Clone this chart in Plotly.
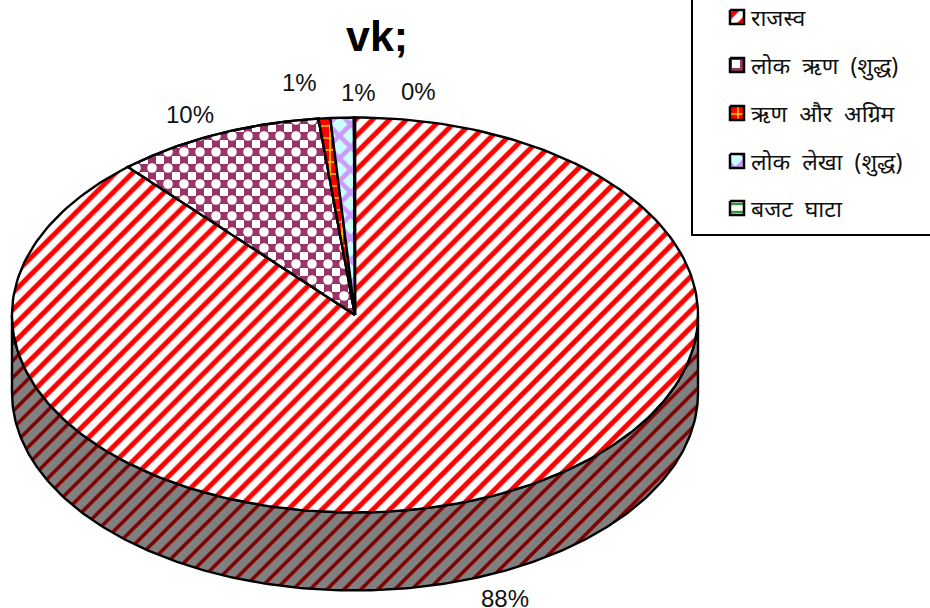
import numpy as np
import plotly.graph_objects as go

categories = ["राजस्व", "लोक ऋण (शुद्ध)", "ऋण और अग्रिम", "लोक लेखा (शुद्ध)", "बजट घाटा"]
values = [88.49, 9.81, 0.55, 1.1, 0.05]
title_text = "vk;"

W, H = 930, 608
CX, CY, RX, RY, DEPTH = 355, 315, 343, 197.5, 78
PAT = [
    dict(shape="/", bgcolor="white", fgcolor="#FF0000", size=12, solidity=0.42, fillmode="replace"),
    dict(shape="+", bgcolor="white", fgcolor="#993366", size=16, solidity=0.75, fillmode="replace"),
    dict(shape="+", bgcolor="#FF0000", fgcolor="#FFCC00", size=12, solidity=0.25, fillmode="replace"),
    dict(shape="x", bgcolor="#CCFFFF", fgcolor="#CC99FF", size=16, solidity=0.5, fillmode="replace"),
    dict(shape="-", bgcolor="white", fgcolor="#339933", size=8, solidity=0.3, fillmode="replace"),
]
# white dots on the crossings of the purple grid turn it into a checkerboard
OVERLAY = {1: dict(shape=".", bgcolor="rgba(0,0,0,0)", fgcolor="white", size=16, solidity=0.283, fillmode="replace")}
SIDE = dict(shape="/", bgcolor="#808080", fgcolor="#800000", size=12, solidity=0.3, fillmode="replace")
LABEL_POS = [(505, 598), (190, 114), (299, 82), (358, 92), (418, 91)]
LEG_Y = [17, 65, 113, 161, 208]


def rim(t0, t1, dy=0.0, n=240):
    t = np.linspace(t0, t1, n)
    return CX + RX * np.sin(t), CY - RY * np.cos(t) + dy


def poly(fig, x, y, pattern, lw=2.4):
    fig.add_trace(go.Scatter(x=x, y=y, mode="lines", fill="toself", fillpattern=pattern,
                             fillcolor=pattern["bgcolor"], line=dict(color="black", width=lw),
                             hoverinfo="skip", showlegend=False))


fig = go.Figure()
# side wall: front half of the rim, extruded downwards
xa, ya = rim(np.pi / 2, 3 * np.pi / 2)
xb, yb = rim(3 * np.pi / 2, np.pi / 2, DEPTH)
poly(fig, np.r_[xa, xb, xa[0]], np.r_[ya, yb, ya[0]], SIDE)

# top face wedges, clockwise from 12 o'clock
edges = np.r_[0, np.cumsum(values)] / sum(values) * 2 * np.pi
for i in range(len(values)):
    xr, yr = rim(edges[i], edges[i + 1])
    poly(fig, np.r_[CX, xr, CX], np.r_[CY, yr, CY], PAT[i])
    if i in OVERLAY:
        poly(fig, np.r_[CX, xr, CX], np.r_[CY, yr, CY], OVERLAY[i])

annotations = [dict(x=377, y=36, text=f"<b>{title_text}</b>", showarrow=False,
                    font=dict(family="Liberation Sans", size=43, color="black"))]
for v, (lx, ly) in zip(values, LABEL_POS):
    annotations.append(dict(x=lx, y=ly, text=f"{v / sum(values) * 100:.0f}%", showarrow=False,
                            font=dict(family="Liberation Sans", size=24, color="#111111")))

# legend
for i, (c, ly) in enumerate(zip(categories, LEG_Y)):
    poly(fig, [730, 744, 744, 730, 730], [ly - 7, ly - 7, ly + 7, ly + 7, ly - 7], PAT[i], lw=2.5)
    annotations.append(dict(x=749, y=ly, xanchor="left", text=c.replace(" ", "\u00a0\u00a0"), showarrow=False,
                            font=dict(family="Noto Sans, Noto Sans Devanagari, sans-serif", size=23, color="#111111")))

fig.update_layout(
    width=W, height=H, margin=dict(l=0, r=0, t=0, b=0), paper_bgcolor="white", plot_bgcolor="white",
    xaxis=dict(range=[0, W], visible=False, fixedrange=True),
    yaxis=dict(range=[H, 0], visible=False, fixedrange=True),
    annotations=annotations, showlegend=False,
    shapes=[dict(type="rect", x0=692, y0=-10, x1=W + 10, y1=235, line=dict(color="black", width=2))],
)
fig.write_html("out.html", config=dict(displayModeBar=False),
               post_script="document.body.style.margin='0';document.documentElement.style.overflow='hidden';")
